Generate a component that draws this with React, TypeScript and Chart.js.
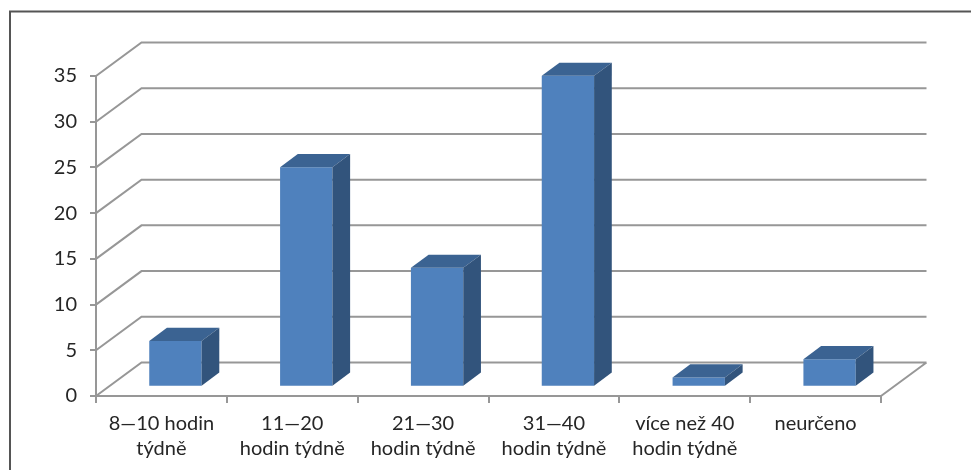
import React, { useEffect, useRef } from "react";
import { Chart, registerables } from "chart.js";

Chart.register(...registerables);

const categories = [
  ["8—10 hodin", "týdně"],
  ["11—20", "hodin týdně"],
  ["21—30", "hodin týdně"],
  ["31—40", "hodin týdně"],
  ["více než 40", "hodin týdně"],
  ["neurčeno"],
];
const hours = [5, 24, 13, 34, 1, 3];
const yTicks = [0, 5, 10, 15, 20, 25, 30, 35];

const FONT = "Lato";
const LINE = "#979797";
const TEXT = "#262626";

// Pseudo-3D extrusion: wall depth and how far the bars sit inside it.
const WALL_DX = 45.5;
const WALL_DY = -33.5;
const BAR_DX = 14;
const BAR_DY = -9.3;
const FACE_DX = 17.7;
const FACE_DY = -13.2;

const framePlugin = {
  id: "frame",
  beforeDraw(chart: any) {
    const { ctx } = chart;
    ctx.save();
    ctx.fillStyle = "#ffffff";
    ctx.fillRect(0, 0, chart.width, chart.height);
    ctx.strokeStyle = "#555555";
    ctx.lineWidth = 2;
    ctx.beginPath();
    ctx.moveTo(10, chart.height);
    ctx.lineTo(10, 11.5);
    ctx.lineTo(chart.width, 11.5);
    ctx.stroke();
    ctx.restore();
  },
};

const wallPlugin = {
  id: "wall",
  beforeDatasetsDraw(chart: any) {
    const { ctx, chartArea, scales } = chart;
    ctx.save();
    ctx.strokeStyle = LINE;
    ctx.lineWidth = 2;
    ctx.beginPath();
    for (const value of yTicks) {
      const y = scales.y.getPixelForValue(value);
      ctx.moveTo(chartArea.left, y);
      ctx.lineTo(chartArea.left + WALL_DX, y + WALL_DY);
      ctx.lineTo(chartArea.right + WALL_DX, y + WALL_DY);
    }
    const floorY = scales.y.getPixelForValue(0);
    ctx.moveTo(chartArea.right, floorY);
    ctx.lineTo(chartArea.right + WALL_DX, floorY + WALL_DY);
    ctx.stroke();
    ctx.restore();
  },
};

const boxPlugin = {
  id: "box",
  beforeDatasetDraw(chart: any) {
    chart.ctx.save();
    chart.ctx.translate(BAR_DX, BAR_DY);
  },
  afterDatasetDraw(chart: any, args: any) {
    const { ctx } = chart;
    for (const bar of args.meta.data) {
      const { x, y, base, width } = bar.getProps(["x", "y", "base", "width"], true);
      const l = x - width / 2;
      const r = x + width / 2;
      ctx.fillStyle = "#3b6392";
      ctx.beginPath();
      ctx.moveTo(l, y);
      ctx.lineTo(l + FACE_DX, y + FACE_DY);
      ctx.lineTo(r + FACE_DX, y + FACE_DY);
      ctx.lineTo(r, y);
      ctx.closePath();
      ctx.fill();
      ctx.fillStyle = "#32547c";
      ctx.beginPath();
      ctx.moveTo(r, y);
      ctx.lineTo(r + FACE_DX, y + FACE_DY);
      ctx.lineTo(r + FACE_DX, base + FACE_DY);
      ctx.lineTo(r, base);
      ctx.closePath();
      ctx.fill();
    }
    ctx.restore();
  },
};

export default function App() {
  const ref = useRef<HTMLCanvasElement>(null);

  useEffect(() => {
    const chart = new Chart(ref.current!, {
      type: "bar",
      data: {
        labels: categories,
        datasets: [
          {
            data: hours,
            backgroundColor: "#4f81bd",
            barPercentage: 0.4,
            categoryPercentage: 1,
            clip: false,
          } as any,
        ],
      },
      options: {
        animation: false,
        responsive: false,
        events: [],
        layout: { padding: { top: 76, right: 90, left: 0, bottom: 0 } },
        plugins: { legend: { display: false }, tooltip: { enabled: false } },
        scales: {
          x: {
            afterFit(scale: any) {
              scale.height = 74;
            },
            grid: {
              offset: true,
              drawOnChartArea: false,
              tickLength: 7,
              tickColor: LINE,
              lineWidth: 2,
            },
            border: { color: LINE, width: 2 },
            ticks: {
              color: TEXT,
              autoSkip: false,
              maxRotation: 0,
              padding: 8,
              font: { family: FONT, size: 20, lineHeight: 1.25 },
            },
          },
          y: {
            min: 0,
            max: 35,
            afterFit(scale: any) {
              scale.width = 96;
            },
            grid: {
              drawOnChartArea: false,
              tickLength: 6,
              tickColor: LINE,
              lineWidth: 2,
            },
            border: { color: LINE, width: 2 },
            ticks: {
              color: TEXT,
              stepSize: 5,
              padding: 13,
              font: { family: FONT, size: 20 },
            },
          },
        },
      },
      plugins: [framePlugin, wallPlugin, boxPlugin],
    } as any);
    return () => chart.destroy();
  }, []);

  return (
    <div style={{ position: "absolute", left: 0, top: 0, width: 971, height: 470, overflow: "hidden" }}>
      <canvas ref={ref} width={971} height={470} style={{ display: "block" }} />
    </div>
  );
}
